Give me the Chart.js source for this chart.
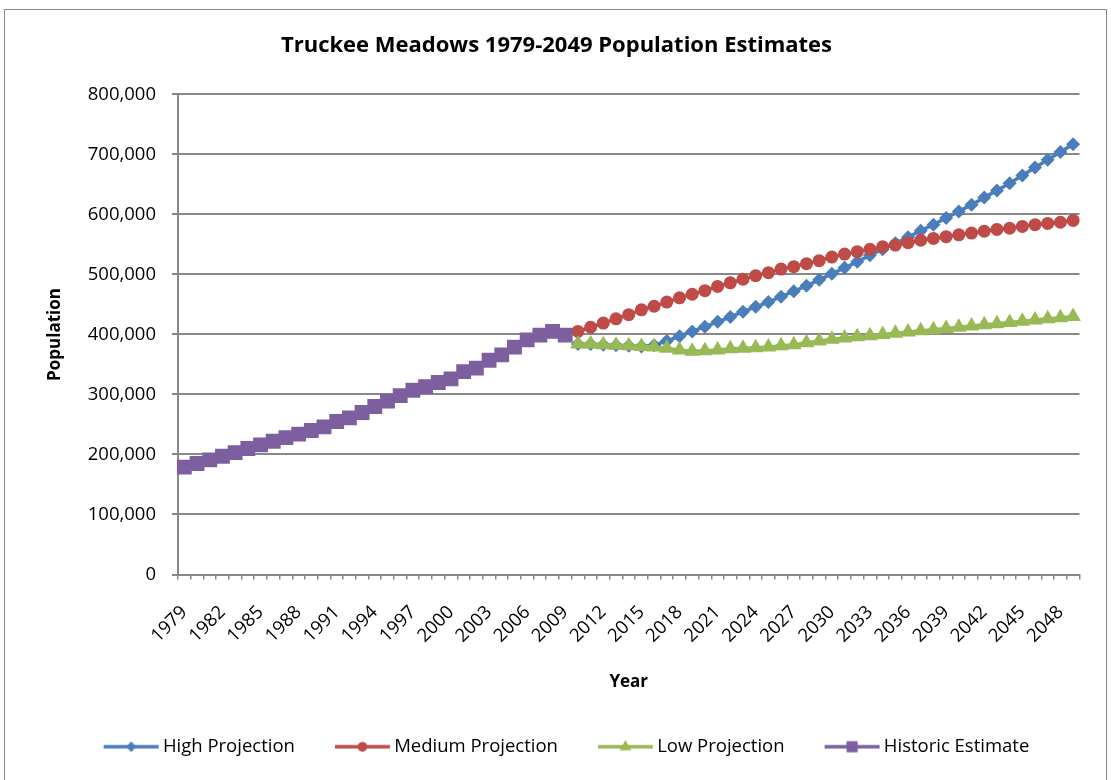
<!DOCTYPE html>
<html>
<head>
<meta charset="utf-8">
<title>Truckee Meadows Population Estimates</title>
<script src="https://cdn.jsdelivr.net/npm/chart.js@4.4.1/dist/chart.umd.min.js"></script>
<style>
  html, body { margin: 0; padding: 0; background: #fff; }
  #wrap { position: relative; width: 1111px; height: 780px; overflow: hidden; }
  #frame { position: absolute; left: 4px; top: 9px; width: 1101px; height: 800px; border: 1.5px solid #888; }
  #chart { position: absolute; left: 0; top: 0; }
</style>
</head>
<body>
<div id="wrap">
  <div id="frame"></div>
  <canvas id="chart" width="1111" height="780"></canvas>
</div>
<script>
// years on the category axis, 1979 .. 2049
var years = [];
for (var y = 1979; y <= 2049; y++) years.push(String(y));

// historic estimate 1979-2009
var historic = [179000, 185000, 191000, 197000, 203000, 210000, 216000, 222000, 228000, 234000,
                240000, 246000, 255000, 261000, 270000, 280000, 289000, 298000, 307000, 313000,
                320000, 326000, 338000, 344000, 357000, 366000, 379000, 391000, 399000, 405000,
                399000];

// projections 2010-2049
var high = [384000, 384000, 383000, 382000, 381000, 380000, 382000, 389000, 397000, 405000,
            413000, 421000, 429000, 438000, 446000, 454000, 463000, 472000, 481000, 491000,
            501000, 511000, 521000, 532000, 542000, 552000, 562000, 573000, 583000, 594000,
            605000, 616000, 628000, 640000, 652000, 665000, 678000, 691000, 704000, 717000];
var medium = [405000, 412000, 419000, 426000, 433000, 441000, 447000, 454000, 461000, 467000,
              473000, 480000, 486000, 492000, 498000, 503000, 509000, 513000, 518000, 523000,
              529000, 534000, 538000, 542000, 546000, 549000, 553000, 557000, 560000, 563000,
              566000, 569000, 572000, 575000, 577000, 580000, 583000, 585000, 587000, 590000];
var low = [384000, 384000, 383000, 382000, 381000, 380000, 379000, 377000, 374000, 372000,
           373000, 374000, 376000, 377000, 378000, 379000, 381000, 383000, 386000, 389000,
           392000, 394000, 396000, 398000, 400000, 402000, 404000, 406000, 408000, 410000,
           412000, 414000, 416000, 418000, 420000, 422000, 424000, 426000, 428000, 430000];

var FONT = "'Open Sans', sans-serif";
var GRID = '#888888';
var LEGEND_BOX = 90;   // legend box width, the swatch image hangs 6px past it on each side

// pad the series so they line up with the full year axis
function fromHistoric(arr) {
    return historic.map(function(){ return null; }).concat(arr);
}
function toProjection(arr) {
    return arr.concat(high.map(function(){ return null; }));
}

var series = [
    { label: 'High Projection',   color: '#4A7EBB', style: 'rectRot',  radius: 7,    data: fromHistoric(high),   order: 4 },
    { label: 'Medium Projection', color: '#BE4B48', style: 'circle',   radius: 6.5,  data: fromHistoric(medium), order: 3 },
    { label: 'Low Projection',    color: '#98B954', style: 'triangle', radius: 9,    data: fromHistoric(low),    order: 2 },
    { label: 'Historic Estimate', color: '#7D5FA0', style: 'rect',     radius: 10.5, data: toProjection(historic), order: 1 }
];

// legend swatch: short line with the marker in the middle, blank on the left for item spacing
function legendIcon(s) {
    var c = document.createElement('canvas');
    c.width = LEGEND_BOX + 12; c.height = 24;
    var ctx = c.getContext('2d');
    ctx.strokeStyle = s.color;
    ctx.fillStyle = s.color;
    ctx.lineWidth = 3.5;
    ctx.beginPath();
    ctx.moveTo(46, 12);
    ctx.lineTo(101, 12);
    ctx.stroke();
    Chart.helpers.drawPoint(ctx, { pointStyle: s.style, radius: s.radius * 0.75, borderWidth: 0, rotation: 0 }, 73.5, 12);
    return c;
}

var icons = series.map(legendIcon);

// the blank lead-in of the first swatch pushes the row right, pull it back
var legendShift = {
    id: 'legendShift',
    afterLayout: function(chart) {
        chart.legend.left -= 10;
        chart.legend.right -= 10;
    }
};

new Chart(document.getElementById('chart'), {
    type: 'line',
    plugins: [legendShift],
    data: {
        labels: years,
        datasets: series.map(function(s){
            return {
                label: s.label,
                data: s.data,
                order: s.order,
                borderColor: s.color,
                backgroundColor: s.color,
                borderWidth: 3.5,
                pointStyle: s.style,
                pointRadius: s.radius,
                pointBorderWidth: 0,
                pointBackgroundColor: s.color,
                tension: 0,
                spanGaps: false
            };
        })
    },
    options: {
        responsive: false,
        animation: false,
        layout: { padding: { left: 30, right: 28, top: 0, bottom: 14 } },
        plugins: {
            tooltip: { enabled: false },
            title: {
                display: true,
                text: 'Truckee Meadows 1979-2049 Population Estimates',
                color: '#000',
                font: { family: FONT, size: 22, weight: 'bold' },
                padding: { top: 33, bottom: 35 }
            },
            legend: {
                position: 'bottom',
                labels: {
                    usePointStyle: true,
                    pointStyleWidth: LEGEND_BOX,
                    padding: 0,
                    color: '#000',
                    font: { family: FONT, size: 18.5 },
                    generateLabels: function(chart) {
                        return series.map(function(s, i){
                            return {
                                text: s.label,
                                pointStyle: icons[i],
                                fillStyle: s.color,
                                strokeStyle: s.color,
                                lineWidth: 0,
                                hidden: false,
                                datasetIndex: i,
                                fontColor: '#000'
                            };
                        });
                    }
                }
            }
        },
        scales: {
            x: {
                offset: true,
                grid: { offset: true, drawOnChartArea: false, tickLength: 5, color: GRID, lineWidth: 1.5 },
                border: { color: GRID, width: 2 },
                ticks: {
                    autoSkip: false,
                    minRotation: 45,
                    maxRotation: 45,
                    padding: 22,
                    color: '#000',
                    font: { family: FONT, size: 18.5 },
                    callback: function(v, i){ return i % 3 === 0 ? years[i] : ''; }
                },
                title: {
                    display: true,
                    text: 'Year',
                    color: '#000',
                    font: { family: FONT, size: 17, weight: 'bold' },
                    padding: { top: 0, bottom: 45 }
                },
                afterFit: function(scale){ scale.height = 163; }
            },
            y: {
                min: 0,
                max: 800000,
                ticks: {
                    stepSize: 100000,
                    padding: 16,
                    color: '#000',
                    font: { family: FONT, size: 18.5 },
                    callback: function(v){ return v.toLocaleString('en-US'); }
                },
                grid: { color: GRID, lineWidth: 2, tickLength: 6 },
                border: { color: GRID, width: 2 },
                title: {
                    display: true,
                    text: 'Population',
                    color: '#000',
                    font: { family: FONT, size: 17, weight: 'bold' },
                    padding: { top: 15, bottom: 0 }
                },
                afterFit: function(scale){ scale.width = 148; }
            }
        }
    }
});
</script>
</body>
</html>
